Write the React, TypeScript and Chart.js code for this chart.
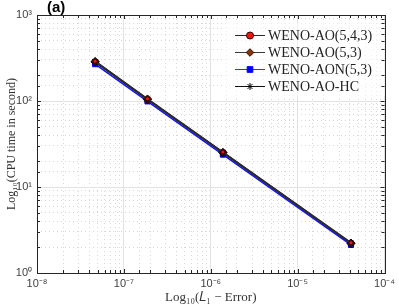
import React, { useEffect, useRef } from "react";
import { Chart, registerables } from "chart.js";
import { drawPoint } from "chart.js/helpers";

Chart.register(...registerables);

const errors = [4.67e-8, 1.87e-7, 1.38e-6, 4.11e-5];
const seriesLabels = ["WENO-AO(5,4,3)", "WENO-AO(5,3)", "WENO-AON(5,3)", "WENO-AO-HC"];
const cpuAO543 = [290, 106, 25.5, 2.25];
const cpuAO53 = [287, 105, 25.2, 2.22];
const cpuAON53 = [268, 99, 23.8, 2.12];
const cpuHC = [284, 104, 25, 2.2];
const xRange = [1e-8, 1e-4];
const yRange = [1, 1000];
const panelTitle = "(a)";
const xTitle = "Log\u2081\u2080(\uD835\uDC3F\u2081 \u2212 Error)";
const yTitle = "Log\u2081\u2080(CPU time in second)";

const SUP: Record<string, string> = {
  "-": "\u207B", "0": "\u2070", "1": "\u00B9", "2": "\u00B2", "3": "\u00B3",
  "4": "\u2074", "5": "\u2075", "6": "\u2076", "7": "\u2077", "8": "\u2078", "9": "\u2079",
};

function isDecade(v: number | undefined) {
  if (v === undefined || v <= 0) return false;
  const l = Math.log10(v);
  return Math.abs(l - Math.round(l)) < 1e-6;
}
function decadeLabel(v: number) {
  if (!isDecade(v)) return "";
  const e = String(Math.round(Math.log10(v)));
  return "10" + e.split("").map((c) => SUP[c] || c).join("");
}

// legend marker appearance
const markerStyles = [
  { pointStyle: "circle", radius: 3.5, bg: "#ff1010", border: "#3a0000", line: "#2b2b2b" },
  { pointStyle: "rectRot", radius: 3.8, bg: "#8a3510", border: "#2a0c00", line: "#3a3a3a" },
  { pointStyle: "rect", radius: 4, bg: "#0000ff", border: "#0000ff", line: "#3030ff" },
  { pointStyle: "star", radius: 3.5, bg: "#000000", border: "#000000", line: "#111111" },
];
// in-plot marker sizes (markers overlap, dark ones on top)
const plotRadius = [2, 4.2, 3.6, 4];
const plotBg = ["#ff1010", "#3a1205", "#0000ff", "#000000"];
const plotBorder = ["#3a0000", "#1a0800", "#0000ee", "#000000"];
const plotLine = ["#2b2b2b", "#333333", "#1414ff", "#1a1a1a"];

const seriesValues = [cpuAO543, cpuAO53, cpuAON53, cpuHC];

const matlabPlugin = {
  id: "matlabDecor",
  beforeDatasetsDraw(chart: any) {
    const ctx = chart.ctx;
    ctx.save();
    ctx.fillStyle = "rgba(255,255,255,0.55)";
    ctx.fillRect(223, 23, 165, 73);
    ctx.restore();
  },
  afterDraw(chart: any) {
    const ctx = chart.ctx;
    const { left, right, top, bottom } = chart.chartArea;
    const xs = chart.scales.x;
    const ys = chart.scales.y;
    ctx.save();
    ctx.strokeStyle = "#262626";
    ctx.lineWidth = 1;
    ctx.beginPath();
    xs.ticks.forEach((t: any) => {
      const px = Math.round(xs.getPixelForValue(t.value)) + 0.5;
      const len = isDecade(t.value) ? 4 : 3;
      ctx.moveTo(px, bottom);
      ctx.lineTo(px, bottom - len);
      ctx.moveTo(px, top);
      ctx.lineTo(px, top + len);
    });
    ys.ticks.forEach((t: any) => {
      const py = Math.round(ys.getPixelForValue(t.value)) + 0.5;
      const len = isDecade(t.value) ? 4 : 3;
      ctx.moveTo(left, py);
      ctx.lineTo(left + len, py);
      ctx.moveTo(right, py);
      ctx.lineTo(right - len, py);
    });
    ctx.stroke();
    ctx.strokeStyle = "#262626";
    ctx.strokeRect(Math.round(left) + 0.5, Math.round(top) + 0.5, Math.round(right - left), Math.round(bottom - top));
    chart.data.datasets.forEach((ds: any, i: number) => {
      const y = 35 + i * 17;
      const m = markerStyles[i];
      ctx.strokeStyle = m.line;
      ctx.lineWidth = 1;
      ctx.beginPath();
      ctx.moveTo(235, y + 0.5);
      ctx.lineTo(265, y + 0.5);
      ctx.stroke();
      ctx.fillStyle = m.bg;
      ctx.strokeStyle = m.border;
      drawPoint(ctx, { pointStyle: m.pointStyle as any, rotation: 0, radius: m.radius, borderWidth: 1 }, 250, y + 0.5);
      ctx.fillStyle = "#222";
      ctx.font = "14px 'Liberation Serif'";
      ctx.textAlign = "left";
      ctx.textBaseline = "middle";
      ctx.fillText(ds.label, 268, y + 1);
    });
    ctx.fillStyle = "#000";
    ctx.font = "bold 15px 'Liberation Sans'";
    ctx.textAlign = "left";
    ctx.textBaseline = "middle";
    ctx.fillText(panelTitle, 47, 8);
    ctx.restore();
  },
};

function gridOpts() {
  return {
    drawTicks: false,
    color: (c: any) => (isDecade(c.tick?.value) ? "#e2e2e2" : "#d8d8d8"),
    lineWidth: 1,
  };
}
function borderOpts() {
  return {
    display: false,
    dash: (c: any) => (isDecade(c.tick?.value) ? [] : [1, 3]),
  };
}

export default function App() {
  const ref = useRef<HTMLCanvasElement | null>(null);
  useEffect(() => {
    document.body.style.margin = "0";
    if (!ref.current) return;
    const chart = new Chart(ref.current, {
      type: "line",
      data: {
        datasets: seriesValues.map((vals, i) => ({
          label: seriesLabels[i],
          data: errors.map((x, j) => ({ x, y: vals[j] })),
          borderColor: plotLine[i],
          backgroundColor: plotBg[i],
          pointBackgroundColor: plotBg[i],
          pointBorderColor: plotBorder[i],
          pointStyle: markerStyles[i].pointStyle as any,
          pointRadius: plotRadius[i],
          pointBorderWidth: i === 3 ? 1.5 : 1,
          borderWidth: 1.6,
          tension: 0,
          fill: false,
        })),
      },
      options: {
        responsive: false,
        animation: false,
        layout: { padding: { top: 15, right: 9, left: 0, bottom: 0 } },
        plugins: {
          legend: { display: false },
          tooltip: { enabled: false },
          title: { display: false },
        },
        scales: {
          x: {
            type: "logarithmic",
            position: "bottom",
            min: xRange[0],
            max: xRange[1],
            grid: gridOpts() as any,
            border: borderOpts() as any,
            afterFit: (s: any) => { s.height = 34; },
            ticks: {
              autoSkip: false,
              maxRotation: 0,
              padding: 4,
              color: "#404040",
              font: { family: "'Liberation Sans'", size: 11 },
              callback: (v: any) => decadeLabel(Number(v)),
            },
            title: {
              display: true,
              text: xTitle,
              color: "#333",
              font: { family: "'Liberation Serif'", size: 13 },
              padding: { top: 0, bottom: 2 },
            },
          },
          y: {
            type: "logarithmic",
            min: yRange[0],
            max: yRange[1],
            grid: gridOpts() as any,
            border: borderOpts() as any,
            afterFit: (s: any) => { s.width = 37; },
            ticks: {
              autoSkip: false,
              padding: 5,
              color: "#404040",
              font: { family: "'Liberation Sans'", size: 11 },
              callback: (v: any) => decadeLabel(Number(v)),
            },
            title: {
              display: true,
              text: yTitle,
              color: "#333",
              font: { family: "'Liberation Serif'", size: 12 },
              padding: { top: 5, bottom: 0 },
            },
          },
        },
      },
      plugins: [matlabPlugin],
    });
    return () => chart.destroy();
  }, []);
  return <canvas ref={ref} width={399} height={307} style={{ display: "block" }} />;
}
